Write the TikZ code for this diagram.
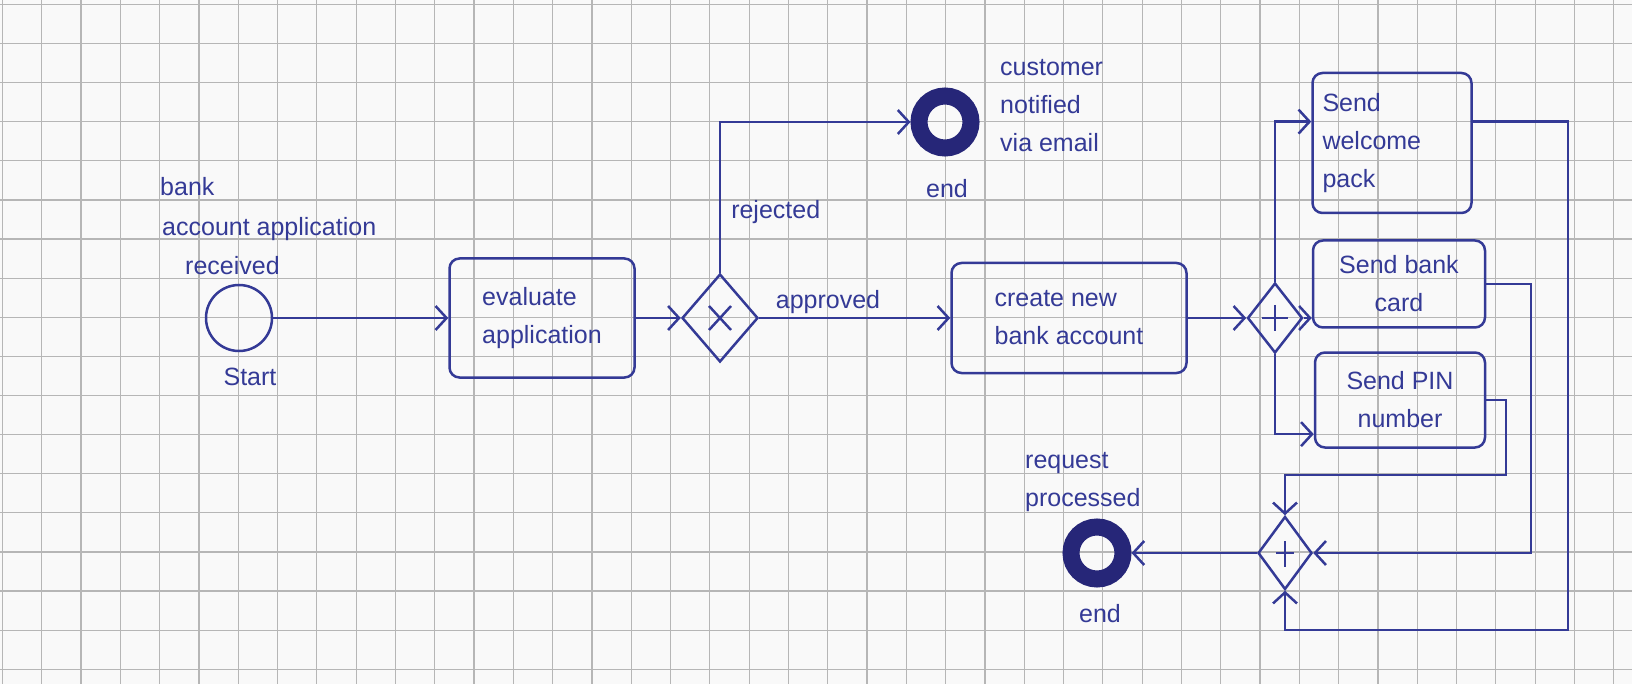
\documentclass[tikz,border=0pt]{standalone}
\usepackage{fontspec}
\setmainfont{Liberation Sans}
\usetikzlibrary{shapes.geometric,arrows.meta,calc}
\definecolor{ink}{RGB}{52,58,150}
\definecolor{darkink}{RGB}{38,38,120}
\definecolor{gridc}{RGB}{182,182,182}
\definecolor{paper}{RGB}{249,249,249}
\begin{document}
\begin{tikzpicture}[x=1pt,y=-1pt,
  every node/.style={font=\fontsize{25}{38}\selectfont, text=ink},
  flow/.style={draw=ink, line width=2.5pt},
  arr/.style={flow, -{Straight Barb[length=11pt,width=24pt]}},
  task/.style={draw=ink, line width=2.5pt, rounded corners=10pt, inner sep=8pt},
  gate/.style={shape=diamond, draw=ink, line width=2.5pt, inner sep=0pt},
  startev/.style={circle, draw=ink, line width=2.5pt, minimum size=66pt, inner sep=0pt},
  endev/.style={circle, draw=darkink, line width=17pt, minimum size=52pt, inner sep=0pt},
  lbl/.style={inner sep=0pt}
]
\useasboundingbox (0,0) rectangle (1632,684);
\fill[paper] (0,0) rectangle (1632,684);
\foreach \i in {0,...,41} \draw[gridc, line width=1.2pt] (2.4+39.3*\i,0) -- (2.4+39.3*\i,684);
\foreach \j in {0,...,17} \draw[gridc, line width=1.2pt] (0,4.5+39.1*\j) -- (1632,4.5+39.1*\j);

% nodes
\node[startev] (start) at (239,318) {};
\node[lbl, anchor=base west] (l1) at (160,196) {bank};
\node[lbl, anchor=base west] (l2) at (162,236) {account application};
\node[lbl, anchor=base west] (l3) at (185,275) {received};
\node[lbl, anchor=base] (startlbl) at (250,385) {Start};

\node[task, minimum width=185pt, minimum height=119pt, align=left] (eval) at (542,318) {evaluate\\application};

\node[gate, minimum width=76pt, minimum height=88pt] (xor) at (720,318) {};
\draw[ink, line width=2.5pt] (xor.center) +(-11,-12) -- +(11,12) +(-11,12) -- +(11,-12);

\node[endev] (end1) at (945,122) {};
\node[lbl, anchor=base] (end1lbl) at (947,198) {end};
\node[lbl, anchor=west, align=left] (custlbl) at (1000,106) {customer\\notified\\via email};

\node[task, minimum width=235pt, minimum height=110pt, align=left] (create) at (1069,318) {create new\\bank account};

\node[gate, minimum width=55pt, minimum height=70pt] (par) at (1275,318) {};
\draw[ink, line width=2.5pt] (par.center) +(-13,0) -- +(13,0) +(0,-13) -- +(0,13);

\node[task, minimum width=159pt, minimum height=140pt, text width=139pt, inner sep=10pt, align=left] (welcome) at (1392,143) {Send\\welcome\\pack};
\node[task, minimum width=172pt, minimum height=87pt, align=center] (card) at (1399,284) {Send bank\\card};
\node[task, minimum width=170pt, minimum height=95pt, align=center] (pin) at (1400,400) {Send PIN\\number};

\node[gate, minimum width=54pt, minimum height=73pt] (join) at (1285,553) {};
\draw[ink, line width=2.2pt] (join.center) +(-9,0) -- +(9,0) +(0,-12) -- +(0,14);

\node[endev] (end2) at (1097,553) {};
\node[lbl, anchor=west, align=left] (reqlbl) at (1025,482) {request\\processed};
\node[lbl, anchor=base] (end2lbl) at (1100,622) {end};

% connectors
\draw[arr] (start) -- (eval);
\draw[arr] (eval) -- (xor);
\draw[arr] (xor.north) |- (end1.west) node[pos=0.2, right=10pt, lbl] (rej) {rejected};
\draw[arr] (xor.east) -- (create.west) node[pos=0.36, above=3pt, lbl] (appr) {approved};
\draw[arr] (create.east) -- (par.west);
\draw[arr] (par.north) |- ($(welcome.north west)!0.35!(welcome.south west)$);
\draw[arr] (par.east) -- (par.east -| card.west);
\draw[arr] (par.south) |- ($(pin.north west)!0.85!(pin.south west)$);

\coordinate (w1) at (1568,630);
\coordinate (b1) at (1531,553);
\coordinate (p1) at (1506,475);
\draw[arr] ($(welcome.north east)!0.35!(welcome.south east)$) -| (w1) -| (join.south);
\draw[arr] (card.east) -| (b1) -- (join.east);
\draw[arr] (pin.east) -| (p1) -| (join.north);
\draw[arr] (join.west) -- (end2.east);
\end{tikzpicture}
\end{document}
